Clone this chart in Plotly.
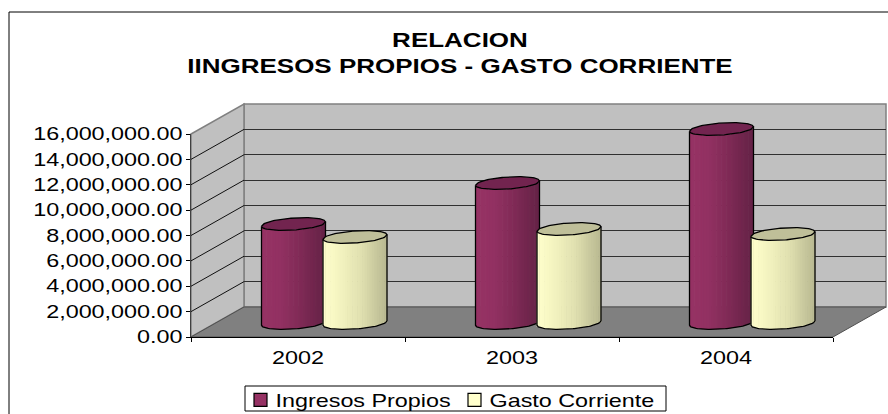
import math
import plotly.graph_objects as go

years = ["2002", "2003", "2004"]
ingresos = [7800000, 11030000, 15290000]
gasto = [6780000, 7410000, 7010000]
series_names = ["Ingresos Propios", "Gasto Corriente"]
title_lines = ["RELACION", "IINGRESOS PROPIOS - GASTO CORRIENTE"]
y_ticks = [0, 2000000, 4000000, 6000000, 8000000, 10000000, 12000000, 14000000, 16000000]

W, H = 888, 414
FX0, FX1, FY0, FY1 = 191, 833, 337, 134      # front plane, px
BDX, BDY = 53, -30                           # back wall offset
MDX, MDY = 26.5, -14                         # mid-depth offset (where bars sit)
YMAX = 16000000
YPAD = 2000000                               # room below zero for the rounded cylinder bases
PX_PER_UNIT = (FY0 - FY1) / YMAX
SLOT = (FX1 - FX0) / 3
BAR_W = 64 / SLOT
OFFS = [-31 / SLOT, 30.5 / SLOT]
ELL_H = 6 / PX_PER_UNIT
ELL_SKEW = 2.2 / PX_PER_UNIT
N = 26


def dom_x(dx):
    return [(FX0 + dx) / W, (FX1 + dx) / W]


def dom_y(dy, pad=0):
    return [1 - (FY0 + dy + pad * PX_PER_UNIT) / H, 1 - (FY1 + dy) / H]


def px(x, y):
    return x / W, 1 - y / H


def mix(c0, c1, t):
    return "rgb(%d,%d,%d)" % tuple(round(a + (b - a) * t) for a, b in zip(c0, c1))


def shade(stops, t):
    for (t0, c0), (t1, c1) in zip(stops, stops[1:]):
        if t <= t1:
            return mix(c0, c1, (t - t0) / (t1 - t0))
    return mix(stops[-1][1], stops[-1][1], 0)


fig = go.Figure()

# wall axes carrier (back wall, gridlines)
fig.add_trace(go.Scatter(x=years, y=[None] * 3, xaxis="x", yaxis="y", showlegend=False, hoverinfo="skip"))


def add_series(name, values, offs, stops, top_color, ax):
    xs, bases, heights, cols, widths = [], [], [], [], []
    outline_x, outline_y, top_x, top_y = [], [], [], []
    for i, v in enumerate(values):
        c = i + offs
        edge = [-1 + 2 * k / N for k in range(N + 1)]
        for k in range(N):
            t = (edge[k] + edge[k + 1]) / 2
            xs.append(c + t * BAR_W / 2)
            widths.append(BAR_W / N * 1.25)
            bases.append(ELL_SKEW * t - ELL_H * math.sqrt(1 - t * t))
            heights.append(v)
            cols.append(shade(stops, (t + 1) / 2))
        ts = [-1 + 2 * k / 48 for k in range(49)]
        # silhouette: left side, bottom arc, right side
        outline_x += [c - BAR_W / 2] + [c + t * BAR_W / 2 for t in ts] + [c + BAR_W / 2, None]
        outline_y += [v - ELL_SKEW] + [ELL_SKEW * t - ELL_H * math.sqrt(1 - t * t) for t in ts] + [v + ELL_SKEW, None]
        # top ellipse
        top_x += [c + t * BAR_W / 2 for t in ts] + [c + t * BAR_W / 2 for t in reversed(ts)] + [None]
        top_y += [v + ELL_SKEW * t + ELL_H * math.sqrt(1 - t * t) for t in ts]
        top_y += [v + ELL_SKEW * t - ELL_H * math.sqrt(1 - t * t) for t in reversed(ts)] + [None]
    fig.add_trace(go.Bar(x=xs, y=heights, base=bases, width=widths, xaxis="x" + ax, yaxis="y" + ax,
                         marker=dict(color=cols, line=dict(width=0)), showlegend=False, hoverinfo="skip"))
    fig.add_trace(go.Scatter(x=outline_x, y=outline_y, mode="lines", xaxis="x" + ax, yaxis="y" + ax,
                             line=dict(color="black", width=1.3), showlegend=False, hoverinfo="skip"))
    fig.add_trace(go.Scatter(x=top_x, y=top_y, mode="lines", fill="toself", fillcolor=top_color,
                             xaxis="x" + ax, yaxis="y" + ax, line=dict(color="black", width=1.3),
                             showlegend=False, hoverinfo="skip"))
    fig.add_trace(go.Scatter(x=[None], y=[None], mode="markers", name=name, xaxis="x" + ax, yaxis="y" + ax,
                             marker=dict(symbol="square", size=13, color=mix(stops[0][1], stops[0][1], 0),
                                         line=dict(color="black", width=1.2))))


add_series(series_names[0], ingresos, OFFS[0],
           [(0, (150, 50, 100)), (0.3, (146, 49, 98)), (0.6, (128, 42, 86)), (1, (100, 34, 70))],
           "#72244F", "2")
add_series(series_names[1], gasto, OFFS[1],
           [(0, (255, 255, 204)), (0.3, (242, 242, 190)), (0.6, (224, 224, 176)), (1, (184, 184, 144))],
           "#BFBF99", "3")

# front axis carrier (year labels, value labels)
fig.add_trace(go.Scatter(x=years, y=[None] * 3, xaxis="x4", yaxis="y4", showlegend=False, hoverinfo="skip"))

shapes = []


def poly(pts, fill, line, w=1):
    path = "M" + " L".join("%.5f,%.5f" % px(*p) for p in pts) + " Z"
    shapes.append(dict(type="path", xref="paper", yref="paper", path=path, fillcolor=fill,
                       line=dict(color=line, width=w), layer="below"))


poly([(FX0 + BDX, FY1 + BDY), (FX1 + BDX, FY1 + BDY), (FX1 + BDX, FY0 + BDY), (FX0 + BDX, FY0 + BDY)],
     "#C0C0C0", "#808080", 1.5)
poly([(FX0, FY0), (FX0 + BDX, FY0 + BDY), (FX0 + BDX, FY1 + BDY), (FX0, FY1)], "#C0C0C0", "#808080", 1.5)
poly([(FX0, FY0), (FX0 + BDX, FY0 + BDY), (FX1 + BDX, FY0 + BDY), (FX1, FY0)], "#808080", "#505050", 1)
for tv in y_ticks[1:-1]:
    yy = FY0 - tv * PX_PER_UNIT
    x0, y0 = px(FX0, yy)
    x1, y1 = px(FX0 + BDX, yy + BDY)
    shapes.append(dict(type="line", xref="paper", yref="paper", x0=x0, y0=y0, x1=x1, y1=y1,
                       line=dict(color="#101010", width=1), layer="below"))
# outer frame
fx, fy = px(9, 12)
shapes.append(dict(type="line", xref="paper", yref="paper", x0=fx, x1=fx, y0=0, y1=fy, line=dict(color="black", width=1)))
shapes.append(dict(type="line", xref="paper", yref="paper", x0=fx, x1=1, y0=fy, y1=fy, line=dict(color="black", width=1)))
# legend box
lx0, ly0 = px(245, 386)
lx1, ly1 = px(666, 411)
shapes.append(dict(type="rect", xref="paper", yref="paper", x0=lx0, x1=lx1, y0=ly0, y1=ly1, fillcolor="white",
                   line=dict(color="black", width=1), layer="below"))

FONT = "Liberation Sans, Arial, sans-serif"
hidden = dict(visible=False, fixedrange=True)
bar_x = dict(range=[-0.5, 2.5], domain=dom_x(MDX), **hidden)
bar_y = dict(range=[-YPAD, YMAX], domain=dom_y(MDY, YPAD), **hidden)

fig.update_layout(
    width=W, height=H, autosize=False,
    margin=dict(l=0, r=0, t=0, b=0, autoexpand=False),
    paper_bgcolor="white", plot_bgcolor="rgba(0,0,0,0)",
    barmode="overlay", showlegend=True, shapes=shapes,
    font=dict(family=FONT, color="black", size=17.5),
    title=dict(text="<b>" + title_lines[0] + "<br>" + title_lines[1] + "</b>", x=460 / W, xanchor="center",
               y=1 - 47 / H, yanchor="top", font=dict(family=FONT, size=20, color="black")),
    xaxis=dict(range=[-0.5, 2.5], domain=dom_x(BDX), type="category", categoryarray=years, anchor="y", **hidden),
    yaxis=dict(range=[0, YMAX], domain=dom_y(BDY), anchor="x", fixedrange=True, tickvals=y_ticks, showgrid=True,
               gridcolor="#303030", gridwidth=1, showticklabels=False, ticks="", showline=False, zeroline=False),
    xaxis2=dict(bar_x, anchor="y2"), yaxis2=dict(bar_y, anchor="x2"),
    xaxis3=dict(bar_x, anchor="y3"), yaxis3=dict(bar_y, anchor="x3"),
    xaxis4=dict(type="category", categoryarray=years, range=[-0.5, 2.5], domain=dom_x(0), anchor="y4",
                tickson="boundaries", ticks="outside", ticklen=4, tickcolor="black", showline=True,
                linecolor="black", linewidth=1, showgrid=False, fixedrange=True, zeroline=False,
                tickfont=dict(size=17.5), ticklabelstandoff=5),
    yaxis4=dict(range=[0, YMAX], domain=dom_y(0), anchor="x4", tickvals=y_ticks, tickformat=",.2f", ticks="outside",
                ticklen=4, tickcolor="black", showline=True, linecolor="#404040", linewidth=1, showgrid=False,
                zeroline=False, fixedrange=True, tickfont=dict(size=17.5), ticklabelstandoff=0),
    legend=dict(orientation="h", x=240.5 / W, y=1 - 382 / H, xanchor="left", yanchor="top",
                bgcolor="rgba(0,0,0,0)", borderwidth=0, font=dict(size=17.5), entrywidth=169,
                entrywidthmode="pixels", itemclick=False, itemdoubleclick=False, tracegroupgap=0),
)

post = """
document.body.style.margin='0';
function stretch(){
  var gd=document.getElementById('{plot_id}');
  gd.querySelectorAll('text').forEach(function(t){
    if(t.dataset.st) return;
    if(!t.textContent) return;
    t.dataset.st='1';
    var isTitle=t.classList.contains('gtitle');
    var isLegend=t.classList.contains('legendtext');
    var k=isTitle?1.30:1.335;
    var x=parseFloat(t.getAttribute('x'))||0;
    var old=t.getAttribute('transform')||'';
    var shift=isLegend?-5:0;
    t.setAttribute('transform',old+' translate('+(x+shift)+',0) scale('+k+',1) translate('+(-x)+',0)');
  });
}
stretch();
setTimeout(stretch,100);
"""
fig.write_html("out.html", post_script=post, config=dict(displayModeBar=False))
